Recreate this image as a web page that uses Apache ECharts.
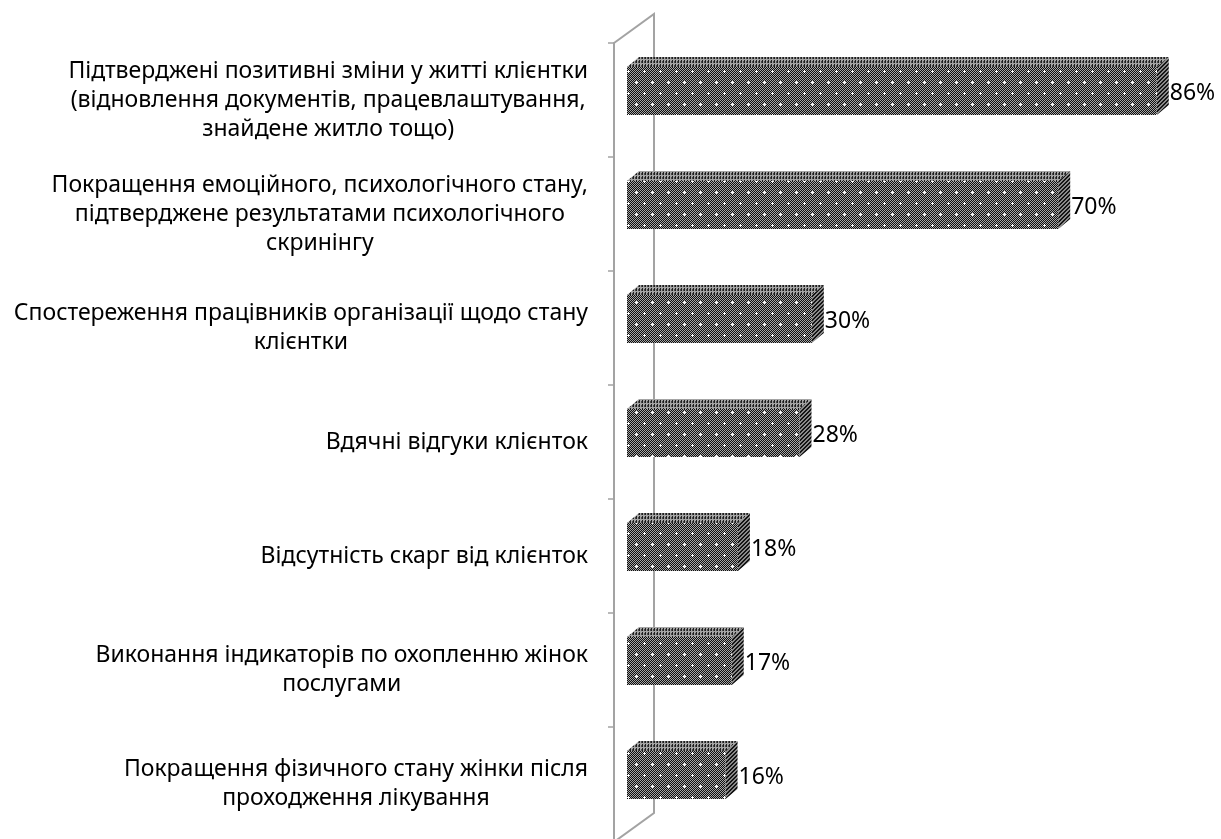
<!DOCTYPE html>
<html>
<head>
<meta charset="utf-8">
<script src="https://cdn.jsdelivr.net/npm/echarts@6/dist/echarts.min.js"></script>
<style>
  html, body { margin: 0; padding: 0; background: #fff; }
  #chart { width: 1221px; height: 839px; }
</style>
</head>
<body>
<div id="chart"></div>
<script>
// Categories (top to bottom) and their shares, %
const categories = [
  'Підтверджені позитивні зміни у житті клієнтки\n(відновлення документів, працевлаштування,\nзнайдене житло тощо)',
  'Покращення емоційного, психологічного стану,\nпідтверджене результатами психологічного\nскринінгу',
  'Спостереження працівників організації щодо стану\nклієнтки',
  'Вдячні відгуки клієнток',
  'Відсутність скарг від клієнток',
  'Виконання індикаторів по охопленню жінок\nпослугами',
  'Покращення фізичного стану жінки після\nпроходження лікування'
];
const values = [86, 70, 30, 28, 18, 17, 16];

const FONT = '"Noto Sans", sans-serif';
const FONT_SIZE = 23;
const WALL = '#a3a3a3';

// Hatched fills for the three visible faces of each bar
function makeTile(w, h, paint) {
  const c = document.createElement('canvas');
  c.width = w; c.height = h;
  const g = c.getContext('2d');
  paint(g, w, h);
  return c;
}
// front: dark checker dither with a staggered grid of white dots
const frontTile = makeTile(16, 22, (g, w, h) => {
  for (let y = 0; y < h; y++) {
    for (let x = 0; x < w; x++) {
      g.fillStyle = ((x + y) % 2) ? '#0e0e0e' : '#a6a6a6';
      g.fillRect(x, y, 1, 1);
    }
  }
  g.fillStyle = '#ffffff';
  [[4, 5], [12, 16]].forEach(([cx, cy]) => {
    g.fillRect(cx - 1, cy, 3, 1);
    g.fillRect(cx, cy - 1, 1, 3);
  });
});
// top: vertical streaks
const topTile = makeTile(3, 4, (g, w, h) => {
  g.fillStyle = '#a4a4a4'; g.fillRect(0, 0, w, h);
  g.fillStyle = '#1e1e1e';
  g.fillRect(0, 0, 1, 3);
  g.fillStyle = '#4a4a4a';
  g.fillRect(2, 1, 1, 2);
});
// side: dark diagonal hatching
const sideTile = makeTile(4, 4, (g, w, h) => {
  g.fillStyle = '#8a8a8a'; g.fillRect(0, 0, w, h);
  g.fillStyle = '#141414';
  for (let i = 0; i < 4; i++) { g.fillRect(i, (3 - i + 4) % 4, 1, 1); g.fillRect(i, (4 - i + 4) % 4, 1, 1); }
});
const frontFill = { image: frontTile, repeat: 'repeat' };
const topFill = { image: topTile, repeat: 'repeat' };
const sideFill = { image: sideTile, repeat: 'repeat' };

// 3D projection of the bar depth
const DEPTH_X = 12, DEPTH_Y = -10;   // receding edge of each bar
const SHIFT_X = 13, SHIFT_Y = -9;    // bars sit inside the wall, behind the front plane

function renderBar(params, api) {
  const v = api.value(0);
  const cat = api.value(1);
  const p0 = api.coord([0, cat]);
  const p1 = api.coord([v, cat]);
  const band = api.size([0, 1])[1];
  const h = band * 0.42;
  const x0 = p0[0] + SHIFT_X;
  const x1 = p1[0] + SHIFT_X;
  const yc = p0[1] + SHIFT_Y;
  const yT = yc - h / 2, yB = yc + h / 2;
  return {
    type: 'group',
    children: [
      { type: 'polygon', shape: { points: [[x0, yT], [x0 + DEPTH_X, yT + DEPTH_Y], [x1 + DEPTH_X, yT + DEPTH_Y], [x1, yT]] },
        style: { fill: topFill } },
      { type: 'polygon', shape: { points: [[x1, yT], [x1 + DEPTH_X, yT + DEPTH_Y], [x1 + DEPTH_X, yB + DEPTH_Y], [x1, yB]] },
        style: { fill: sideFill } },
      { type: 'rect', shape: { x: x0, y: yT, width: x1 - x0, height: h },
        style: { fill: frontFill } },
      { type: 'text', x: x1 + DEPTH_X + 1, y: yc + 2,
        style: { text: v + '%', font: FONT_SIZE + 'px ' + FONT, fill: '#000', align: 'left', verticalAlign: 'middle' } }
    ]
  };
}

const chart = echarts.init(document.getElementById('chart'), null, { renderer: 'canvas' });
chart.setOption({
  animation: false,
  backgroundColor: '#ffffff',
  grid: { left: 614, top: 43, width: 616, height: 798, containLabel: false, outerBoundsMode: 'none' },
  xAxis: { type: 'value', min: 0, max: 100, show: false },
  yAxis: {
    type: 'category',
    inverse: true,
    data: categories,
    axisLine: { show: true, lineStyle: { color: WALL, width: 2 } },
    axisTick: { show: true, length: 6, lineStyle: { color: WALL, width: 1.5 } },
    axisLabel: {
      margin: 26,
      align: 'right',
      formatter: (s) => s.split('\n').map(l => '{c|' + l + '}').join('\n'),
      rich: { c: { align: 'center', fontFamily: FONT, fontSize: FONT_SIZE, lineHeight: 29, color: '#000' } }
    },
    splitLine: { show: false }
  },
  graphic: [{
    type: 'polyline',
    z: 0,
    shape: { points: [[614, 43], [654, 14], [654, 813], [614, 842]] },
    style: { stroke: WALL, lineWidth: 2, fill: null }
  }],
  series: [{
    type: 'custom',
    z: 3,
    renderItem: renderBar,
    encode: { x: 0, y: 1 },
    data: values.map((v, i) => [v, i]),
    clip: false
  }]
});
</script>
</body>
</html>
